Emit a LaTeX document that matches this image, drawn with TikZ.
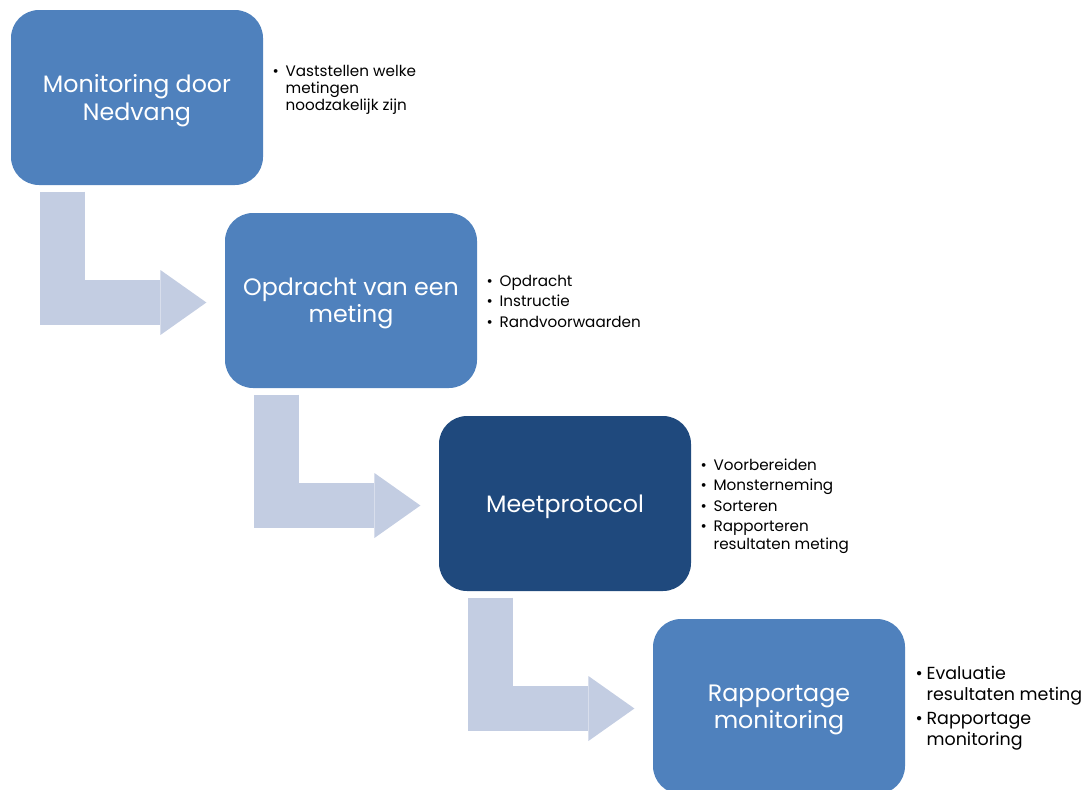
\documentclass[tikz,border=0pt]{standalone}
\usepackage{fontspec}
\setmainfont{Poppins}
\usetikzlibrary{arrows.meta,calc}

\definecolor{boxblue}{HTML}{4F81BD}
\definecolor{boxdark}{HTML}{1F497D}
\definecolor{arrowgrey}{HTML}{C3CDE2}

% bullet list: one row per line, extra space between items
\newcommand{\bul}{\makebox[9.75pt][l]{\textbullet}}

\tikzset{every picture/.style={line width=0.9pt}}
\tikzset{
  stepbox/.style={fill=boxblue, draw=none, rounded corners=21pt, minimum width=189pt, minimum height=131.25pt, text=white, align=center, text depth=0pt, font=\fontsize{17.8}{20.5}\selectfont},
  bentarrow/.style={draw=arrowgrey, line width=33.75pt, line join=miter, -{Triangle[length=34.5pt,width=48.75pt,line width=0pt]}},
  bullets/.style={anchor=base west, inner sep=0pt, font=\fontsize{11.4}{13.4}\selectfont}
}

\begin{document}
\begin{tikzpicture}[x=0.75pt,y=0.75pt,yscale=-1]
\useasboundingbox (0,0) rectangle (1088,789);
\clip (0,0) rectangle (1088,789);

% Steps
\node[stepbox] (box1) at (137,97.5) {Monitoring door\\Nedvang};
\node[stepbox] (box2) at (351,300.5) {Opdracht van een\\meting};
\node[stepbox, fill=boxdark] (box3) at (565,503.5) {Meetprotocol};
\node[stepbox] (box4) at (779,706.5) {Rapportage\\monitoring};

% Bent arrows
\draw[bentarrow] ($(box1.south west)+(52.5,6)$) |- ($(box2.west)+(-18,2)$);
\draw[bentarrow] ($(box2.south west)+(52.5,6)$) |- ($(box3.west)+(-18,2)$);
\draw[bentarrow] ($(box3.south west)+(52.5,6)$) |- ($(box4.west)+(-18,2)$);

% Bullet lists
\node[bullets, font=\fontsize{11.4}{13}\selectfont] (list1) at (272,76) {\begin{tabular}[t]{@{}l@{}l@{}}
  \bul & Vaststellen welke\\ & metingen\\ & noodzakelijk zijn\end{tabular}};
\node[bullets] (list2) at (486,286) {\begin{tabular}[t]{@{}l@{}l@{}}
  \bul & Opdracht\\[2pt] \bul & Instructie\\[2pt] \bul & Randvoorwaarden\end{tabular}};
\node[bullets] (list3) at (700,470) {\begin{tabular}[t]{@{}l@{}l@{}}
  \bul & Voorbereiden\\[2pt] \bul & Monsterneming\\[2pt] \bul & Sorteren\\[2pt]
  \bul & Rapporteren\\ & resultaten meting\end{tabular}};
\node[bullets, font=\fontsize{13.1}{15.75}\selectfont] (list4) at (915,679) {\begin{tabular}[t]{@{}l@{}l@{}}
  \makebox[8.25pt][l]{\textbullet} & Evaluatie\\ & resultaten meting\\[2.25pt]
  \makebox[8.25pt][l]{\textbullet} & Rapportage\\ & monitoring\end{tabular}};

\end{tikzpicture}
\end{document}
